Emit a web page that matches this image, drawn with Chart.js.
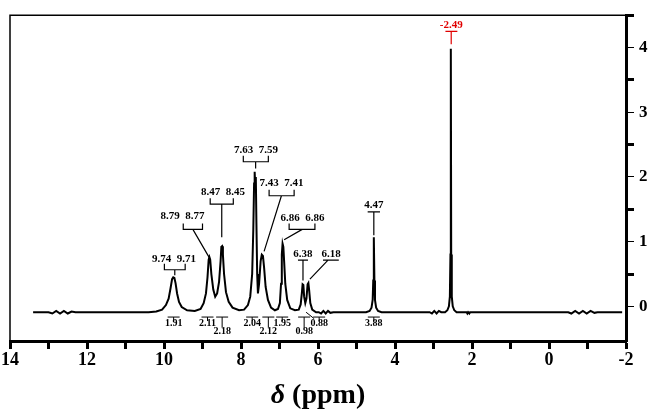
<!DOCTYPE html>
<html>
<head>
<meta charset="utf-8">
<script src="https://cdn.jsdelivr.net/npm/chart.js@4.4.0/dist/chart.umd.min.js"></script>
<style>
  body { margin: 0; background: #fff; }
  canvas { display: block; }
</style>
</head>
<body>
<canvas id="chart-nmr" width="650" height="413"></canvas>
<script>
// --- spectrum (ppm, intensity) ---
const shiftPpm = [
  13.40, 13.00, 12.90, 12.80, 12.70, 12.60, 12.50, 12.40, 12.30, 10.40,
  10.20, 10.05, 9.95, 9.88, 9.83, 9.79, 9.76, 9.73, 9.70, 9.66,
  9.61, 9.54, 9.40, 9.20, 9.05, 8.97, 8.91, 8.87, 8.84, 8.82,
  8.80, 8.77, 8.72, 8.67, 8.62, 8.57, 8.53, 8.51, 8.49, 8.47,
  8.44, 8.39, 8.32, 8.22, 8.05, 7.92, 7.82, 7.76, 7.71, 7.68,
  7.66, 7.645, 7.63, 7.615, 7.60, 7.58, 7.56, 7.53, 7.49, 7.46, 7.43,
  7.40, 7.36, 7.30, 7.22, 7.12, 7.04, 6.99, 6.96, 6.94, 6.92,
  6.90, 6.88, 6.85, 6.80, 6.72, 6.60, 6.50, 6.45, 6.42, 6.40,
  6.38, 6.36, 6.33, 6.30, 6.27, 6.25, 6.23, 6.20, 6.15, 6.05,
  5.98, 5.92, 5.86, 5.80, 5.74, 5.68, 5.60, 4.75, 4.66, 4.61,
  4.58, 4.565, 4.55, 4.535, 4.52, 4.49, 4.44, 4.35, 3.10, 3.04,
  2.98, 2.92, 2.86, 2.80, 2.70, 2.64, 2.60, 2.575, 2.56, 2.55,
  2.54, 2.525, 2.50, 2.46, 2.40, 2.14, 2.12, 2.10, 2.07, 2.05,
  -0.50, -0.58, -0.68, -0.78, -0.88, -0.98, -1.08, -1.18, -1.26, -1.90
];
const intensity = [
  -0.09, -0.09, -0.11, -0.07, -0.11, -0.07, -0.11, -0.08, -0.09, -0.09,
  -0.08, -0.05, 0.02, 0.12, 0.28, 0.42, 0.45, 0.44, 0.36, 0.20,
  0.07, -0.01, -0.06, -0.07, -0.04, 0.05, 0.20, 0.45, 0.72, 0.76,
  0.72, 0.50, 0.26, 0.15, 0.20, 0.38, 0.70, 0.92, 0.93, 0.80,
  0.50, 0.22, 0.07, -0.02, -0.06, -0.05, 0.02, 0.15, 0.50, 1.20,
  1.90, 2.08, 1.85, 2.00, 1.30, 0.50, 0.20, 0.35, 0.70, 0.80, 0.78,
  0.60, 0.30, 0.10, -0.02, -0.06, -0.04, 0.05, 0.35, 0.80, 0.97,
  0.92, 0.70, 0.35, 0.10, -0.03, -0.06, -0.05, 0.03, 0.20, 0.34,
  0.33, 0.15, 0.05, 0.12, 0.34, 0.36, 0.25, 0.05, -0.05, -0.09,
  -0.09, -0.11, -0.07, -0.11, -0.07, -0.10, -0.09, -0.09, -0.07, -0.02,
  0.10, 0.40, 1.07, 0.40, 0.10, -0.02, -0.07, -0.09, -0.09, -0.11,
  -0.07, -0.11, -0.07, -0.09, -0.09, -0.06, 0.00, 0.15, 0.80, 3.98,
  0.80, 0.15, 0.00, -0.06, -0.09, -0.09, -0.11, -0.09, -0.11, -0.09,
  -0.09, -0.11, -0.07, -0.11, -0.07, -0.11, -0.07, -0.10, -0.09, -0.09
];

const xTickLabels = [14, 12, 10, 8, 6, 4, 2, 0, -2];
const yTickLabels = [0, 1, 2, 3, 4];

const peakLabels = ["9.74  9.71", "8.79  8.77", "8.47  8.45", "7.63  7.59", "7.43  7.41",
                    "6.86  6.86", "6.38", "6.18", "4.47", "-2.49"];
const integralValues = ["1.91", "2.11", "2.18", "2.04", "2.12", "1.95", "0.98", "0.88", "3.88"];

// --- where the labels sit, in ppm / intensity units ---
// tx,ty text centre; x1,x2,by the bracket bar; sx stem start; ex,ey stem end
const peakLayout = [
  { tx: 9.74, ty: 0.73, x1: 9.99, x2: 9.45, by: 0.566, legs: true,  sx: 9.72, ex: 9.72, ey: 0.48 },
  { tx: 9.52, ty: 1.40, x1: 9.50, x2: 9.00, by: 1.19,  legs: true,  sx: 9.25, ex: 8.82, ey: 0.75 },
  { tx: 8.47, ty: 1.77, x1: 8.80, x2: 8.20, by: 1.58,  legs: true,  sx: 8.50, ex: 8.50, ey: 1.07 },
  { tx: 7.61, ty: 2.41, x1: 7.94, x2: 7.29, by: 2.235, legs: true,  sx: 7.62, ex: 7.62, ey: 2.13 },
  { tx: 6.95, ty: 1.91, x1: 7.27, x2: 6.62, by: 1.71,  legs: true,  sx: 6.95, ex: 7.40, ey: 0.85 },
  { tx: 6.40, ty: 1.37, x1: 6.75, x2: 6.08, by: 1.19,  legs: true,  sx: 6.41, ex: 6.88, ey: 1.03 },
  { tx: 6.39, ty: 0.80, x1: 6.52, x2: 6.26, by: 0.715, legs: false, sx: 6.39, ex: 6.39, ey: 0.40 },
  { tx: 5.66, ty: 0.80, x1: 5.87, x2: 5.46, by: 0.715, legs: false, sx: 5.74, ex: 6.21, ey: 0.42 },
  { tx: 4.55, ty: 1.56, x1: 4.71, x2: 4.39, by: 1.46,  legs: false, sx: 4.55, ex: 4.55, ey: 1.10 },
  { tx: 2.54, ty: 4.34, x1: 2.69, x2: 2.38, by: 4.25,  legs: false, sx: 2.54, ex: 2.54, ey: 4.05, color: "#e00000" }
];
const integralPpm = [9.75, 8.87, 8.49, 7.71, 7.29, 6.93, 6.36, 5.97, 4.55];
const integralLow = [false, false, true, false, true, false, true, false, false];

const SERIF = "'Liberation Serif', 'DejaVu Serif', serif";

const annotate = {
  id: "annotate",
  afterDatasetsDraw(chart) {
    const { ctx, chartArea } = chart;
    const xs = chart.scales.x, ys = chart.scales.y;
    const px = v => xs.getPixelForValue(v);
    const py = v => ys.getPixelForValue(v);
    ctx.save();

    // thin frame on top and left
    ctx.strokeStyle = "#000";
    ctx.lineWidth = 1.5;
    ctx.beginPath();
    ctx.moveTo(chartArea.left, chartArea.bottom);
    ctx.lineTo(chartArea.left, chartArea.top);
    ctx.lineTo(chartArea.right, chartArea.top);
    ctx.stroke();

    // peak labels with brackets
    ctx.textAlign = "center";
    ctx.textBaseline = "middle";
    peakLayout.forEach((p, i) => {
      const col = p.color || "#000";
      ctx.strokeStyle = col;
      ctx.fillStyle = col;
      ctx.lineWidth = 1.2;
      ctx.font = "bold 11px " + SERIF;
      ctx.fillText(peakLabels[i], px(p.tx), py(p.ty));
      const yb = py(p.by);
      ctx.beginPath();
      if (p.legs) {
        ctx.moveTo(px(p.x1), yb - 6);
        ctx.lineTo(px(p.x1), yb);
        ctx.lineTo(px(p.x2), yb);
        ctx.lineTo(px(p.x2), yb - 6);
      } else {
        ctx.moveTo(px(p.x1), yb);
        ctx.lineTo(px(p.x2), yb);
      }
      ctx.moveTo(px(p.sx), yb);
      ctx.lineTo(px(p.ex), py(p.ey));
      ctx.stroke();
    });

    // integrals under the baseline
    ctx.strokeStyle = "#000";
    ctx.fillStyle = "#000";
    ctx.lineWidth = 1;
    ctx.font = "bold 10px " + SERIF;
    const yBar = py(-0.165);
    integralValues.forEach((txt, i) => {
      const x = px(integralPpm[i]);
      ctx.beginPath();
      ctx.moveTo(x - 6, yBar);
      ctx.lineTo(x + 6, yBar);
      if (integralLow[i]) {
        ctx.moveTo(x, yBar);
        ctx.lineTo(x, py(-0.33));
      } else {
        ctx.moveTo(x, yBar);
        ctx.lineTo(x, yBar + 4);
      }
      ctx.stroke();
      if (txt === "0.88") {
        ctx.beginPath();
        ctx.moveTo(px(6.31), py(-0.09));
        ctx.lineTo(px(6.10), py(-0.19));
        ctx.stroke();
      }
      ctx.fillText(txt, x, integralLow[i] ? py(-0.39) : py(-0.27));
    });

    // axis title
    const cx = (chartArea.left + chartArea.right) / 2;
    ctx.textBaseline = "alphabetic";
    ctx.textAlign = "left";
    const d = "\u03b4";
    ctx.font = "bold 28px " + SERIF;
    const rest = " (ppm)";
    const wRest = ctx.measureText(rest).width;
    ctx.font = "italic bold 28px " + SERIF;
    const wD = ctx.measureText(d).width;
    const x0 = cx - (wD + wRest) / 2;
    ctx.fillText(d, x0, 403);
    ctx.font = "bold 28px " + SERIF;
    ctx.fillText(rest, x0 + wD, 403);

    ctx.restore();
  }
};

const points = shiftPpm.map((x, i) => ({ x: x, y: intensity[i] }));

new Chart(document.getElementById("chart-nmr").getContext("2d"), {
  type: "scatter",
  data: {
    datasets: [{
      data: points,
      showLine: true,
      borderColor: "#000",
      borderWidth: 2,
      pointRadius: 0,
      tension: 0
    }]
  },
  options: {
    responsive: false,
    animation: false,
    layout: { padding: { left: 8, top: 3, right: 0, bottom: 0 } },
    plugins: { legend: { display: false }, tooltip: { enabled: false } },
    scales: {
      x: {
        type: "linear",
        reverse: true,
        min: -2,
        max: 14,
        afterBuildTicks: s => { s.ticks = [14, 13, 12, 11, 10, 9, 8, 7, 6, 5, 4, 3, 2, 1, 0, -1, -2].map(v => ({ value: v })); },
        afterFit: s => { s.height = 72; },
        border: { display: true, width: 3, color: "#000" },
        grid: { drawOnChartArea: false, tickLength: 8, tickWidth: 3, tickColor: "#000" },
        ticks: {
          autoSkip: false,
          maxRotation: 0,
          padding: 1,
          color: "#000",
          font: { family: SERIF, weight: "bold", size: 18 },
          callback: v => xTickLabels.includes(v) ? String(v) : ""
        }
      },
      y: {
        type: "linear",
        position: "right",
        min: -0.535,
        max: 4.5,
        afterBuildTicks: s => { s.ticks = [0, 0.5, 1, 1.5, 2, 2.5, 3, 3.5, 4, 4.5].map(v => ({ value: v })); },
        afterFit: s => { s.width = 24; },
        border: { display: true, width: 3, color: "#000" },
        grid: {
          drawOnChartArea: false,
          tickLength: 8,
          tickColor: "#000",
          tickWidth: c => (c.tick && Number.isInteger(c.tick.value)) ? 1 : 3
        },
        ticks: {
          padding: 5,
          color: "#000",
          font: { family: SERIF, weight: "bold", size: 17 },
          callback: v => yTickLabels.includes(v) ? String(v) : ""
        }
      }
    }
  },
  plugins: [annotate]
});
</script>
</body>
</html>
